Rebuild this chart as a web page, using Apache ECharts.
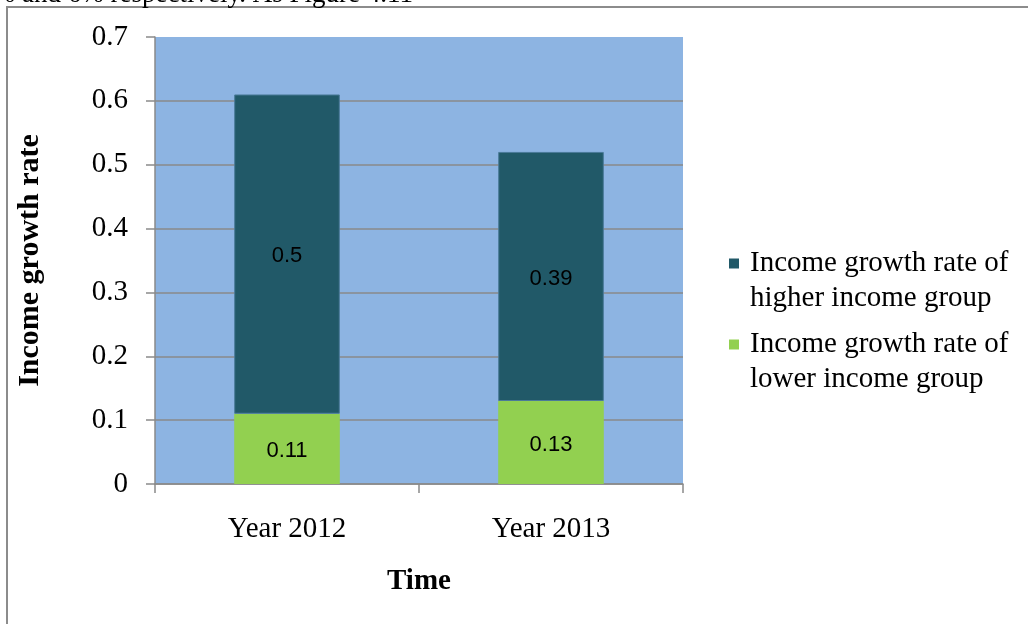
<!DOCTYPE html>
<html lang="en">
<head>
  <meta charset="UTF-8">
  <title>Income growth rate</title>
  <style>
    * { margin: 0; padding: 0; }
    body { background: #ffffff; }
    #chart { width: 1028px; height: 624px; }
  </style>
</head>
<body>
  <div id="chart"></div>

  <script src="https://cdn.jsdelivr.net/npm/echarts@6/dist/echarts.min.js"></script>
  <script type="text/javascript">
  // data
  var years = ['Year 2012', 'Year 2013'];
  var lowerGroup = [0.11, 0.13];
  var higherGroup = [0.5, 0.39];
  var yTicks = { min: 0, max: 0.7, step: 0.1 };

  var nameHigh = 'Income growth rate of higher income group';
  var nameLow = 'Income growth rate of lower income group';
  var darkTeal = '#215968';
  var green = '#92d050';
  var gridGray = '#8a8a8a';
  var serif = '"Liberation Serif", "Times New Roman", serif';

  function main () {
    var chart = echarts.init(document.getElementById('chart'));
    var option = {
      animation: false,
      textStyle: { fontFamily: serif, color: '#000' },
      graphic: [
        {
          type: 'rect',
          shape: { x: 7, y: 7, width: 1100, height: 700 },
          style: { fill: 'none', stroke: '#8c8c8c', lineWidth: 2 },
          silent: true
        },
        {
          type: 'text',
          x: 413, y: -5,
          style: {
            text: '17% and 6% respectively. As Figure 4.11',
            font: '27px ' + serif,
            fill: '#000',
            align: 'right',
            verticalAlign: 'middle'
          },
          silent: true
        }
      ],
      grid: {
        left: 155, top: 37, right: 345, bottom: 140,
        show: true, backgroundColor: '#8db4e2', borderWidth: 0
      },
      legend: {
        orient: 'vertical',
        left: 718, top: 244,
        itemWidth: 0, itemHeight: 0, itemGap: 17,
        icon: 'rect',
        data: [nameHigh, nameLow],
        formatter: function (name) {
          var mk = name === nameHigh ? 'mkA' : 'mkB';
          var parts = name === nameHigh
            ? ['Income growth rate of', 'higher income group']
            : ['Income growth rate of', 'lower income group'];
          return '{' + mk + '| }{gap| }{t|' + parts[0] + '}\n{ind| }{t|' + parts[1] + '}';
        },
        textStyle: {
          fontFamily: serif, fontSize: 29, color: '#000',
          rich: {
            mkA: { width: 10, height: 10, backgroundColor: darkTeal, verticalAlign: 'middle' },
            mkB: { width: 10, height: 10, backgroundColor: green, verticalAlign: 'middle' },
            gap: { width: 11 },
            ind: { width: 21 },
            t: { fontFamily: serif, fontSize: 29, lineHeight: 35, color: '#000' }
          }
        }
      },
      xAxis: {
        type: 'category',
        data: years,
        name: 'Time',
        nameLocation: 'middle',
        nameGap: 83,
        nameTextStyle: { fontFamily: serif, fontSize: 29, fontWeight: 'bold', color: '#000' },
        axisLine: { lineStyle: { color: gridGray, width: 1.5 } },
        axisTick: { show: true, length: 9, lineStyle: { color: gridGray, width: 1.5 } },
        axisLabel: { margin: 31, fontFamily: serif, fontSize: 29, color: '#000' }
      },
      yAxis: {
        type: 'value',
        min: yTicks.min, max: yTicks.max, interval: yTicks.step,
        name: 'Income growth rate',
        nameLocation: 'middle',
        nameGap: 110,
        nameTextStyle: { fontFamily: serif, fontSize: 30, fontWeight: 'bold', color: '#000' },
        axisLine: { show: true, lineStyle: { color: gridGray, width: 1.5 } },
        axisTick: { show: true, length: 9, lineStyle: { color: gridGray, width: 1.5 } },
        axisLabel: { margin: 27, fontFamily: serif, fontSize: 29, color: '#000' },
        splitLine: { show: true, showMaxLine: false, lineStyle: { color: gridGray, width: 1.5 } }
      },
      series: [
        {
          name: nameLow,
          type: 'bar',
          stack: 'total',
          barWidth: '40%',
          data: lowerGroup,
          itemStyle: { color: green },
          label: {
            show: true, position: 'inside', color: '#000', offset: [0, 2],
            fontFamily: '"Liberation Sans", Arial, sans-serif', fontSize: 22
          }
        },
        {
          name: nameHigh,
          type: 'bar',
          stack: 'total',
          barWidth: '40%',
          data: higherGroup,
          itemStyle: { color: darkTeal, borderColor: '#4a7a98', borderWidth: 1 },
          label: {
            show: true, position: 'inside', color: '#000', offset: [0, 2],
            fontFamily: '"Liberation Sans", Arial, sans-serif', fontSize: 22
          }
        }
      ]
    };
    chart.setOption(option);
  }

  window.addEventListener('load', main);
  </script>
</body>
</html>
